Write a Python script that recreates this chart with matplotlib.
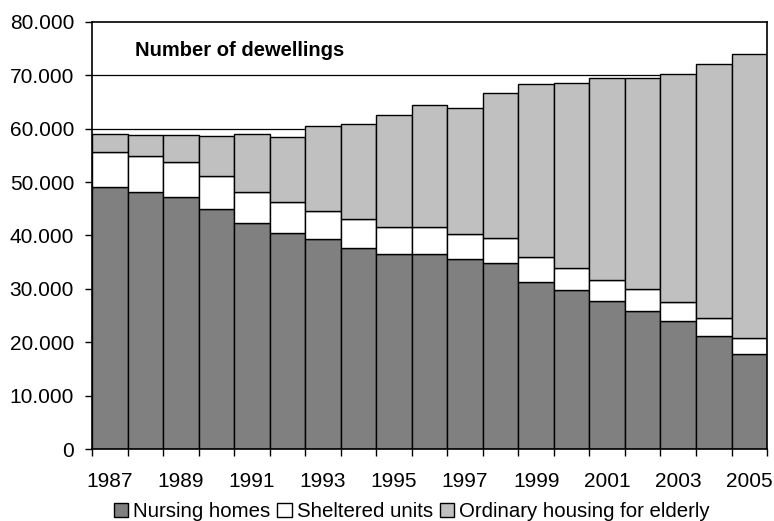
import matplotlib
matplotlib.use("Agg")
import matplotlib.pyplot as plt
from matplotlib.patches import Patch

plt.rcParams['font.family'] = ['Liberation Sans', 'DejaVu Sans']

# Data
years = list(range(1987, 2006))
nursing = [49100, 48100, 47150, 44900, 42300, 40450, 39300, 37700, 36500, 36450,
           35550, 34800, 31300, 29700, 27700, 25850, 23900, 21150, 17850]
nursing_sheltered = [55700, 54900, 53750, 51200, 48200, 46300, 44650, 43000, 41550, 41550,
                     40300, 39450, 35950, 33950, 31600, 29900, 27500, 24500, 20850]
totals = [59050, 58750, 58900, 58550, 59000, 58450, 60500, 60900, 62650, 64400,
          63950, 66650, 68450, 68600, 69500, 69550, 70200, 72200, 74000]

sheltered = [a - b for a, b in zip(nursing_sheltered, nursing)]
ordinary = [a - b for a, b in zip(totals, nursing_sheltered)]

fig = plt.figure(figsize=(7.74, 5.21), dpi=100)
ax = fig.add_axes([0.119, 0.138, 0.872, 0.82])

x = list(range(len(years)))
ax.bar(x, nursing, width=1.0, color="#808080", edgecolor="black", linewidth=1, zorder=2)
ax.bar(x, sheltered, width=1.0, bottom=nursing, color="white", edgecolor="black", linewidth=1, zorder=2)
ax.bar(x, ordinary, width=1.0, bottom=nursing_sheltered, color="#c0c0c0", edgecolor="black", linewidth=1, zorder=2)

ax.set_xlim(-0.5, len(years) - 0.5)
ax.set_ylim(0, 80000)

yt = list(range(0, 80001, 10000))
ax.set_yticks(yt)
ax.set_yticklabels([f"{v:,}".replace(",", ".") for v in yt], fontsize=15)
for v in yt[1:-1]:
    ax.axhline(v, color="black", linewidth=0.9, zorder=1)

# ticks between bars, labels every other year
ax.set_xticks([i - 0.5 for i in range(len(years) + 1)])
ax.set_xticklabels([])
ax.set_xticks(x[::2], minor=True)
ax.set_xticklabels([str(y) for y in years[::2]], minor=True, fontsize=15)
ax.tick_params(axis="x", which="minor", length=0, pad=16.5)
ax.tick_params(axis="x", which="major", length=5, width=1)
ax.tick_params(axis="y", length=5, width=1, pad=8)

for s in ax.spines.values():
    s.set_linewidth(1.2)

ax.text(0.064, 0.933, "Number of dewellings", transform=ax.transAxes,
        fontsize=14.5, fontweight="bold", va="center", ha="left")

handles = [Patch(facecolor="#808080", edgecolor="black", linewidth=1),
           Patch(facecolor="white", edgecolor="black", linewidth=1),
           Patch(facecolor="#c0c0c0", edgecolor="black", linewidth=1)]
labels = ["Nursing homes", "Sheltered units", "Ordinary housing for elderly"]
fig.legend(handles, labels, loc="center", bbox_to_anchor=(0.532, 0.018), ncol=3,
           frameon=False, fontsize=14.7, handlelength=0.7, handleheight=0.7,
           handletextpad=0.25, columnspacing=0.35, borderpad=0)

fig.savefig("out.png", dpi=100)
